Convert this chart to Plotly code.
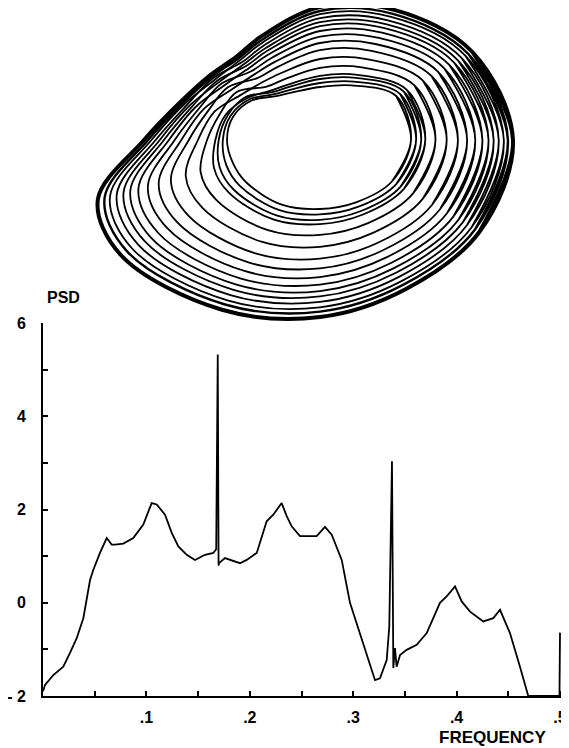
import numpy as np
import plotly.graph_objects as go

# ---------------- PSD spectrum ----------------
freq = [0.0, 0.002, 0.010, 0.0196, 0.026, 0.0326, 0.039, 0.0455, 0.0487, 0.0551,
        0.0616, 0.0664, 0.0696, 0.0777, 0.0873, 0.097, 0.1051, 0.110, 0.118, 0.1245,
        0.1309, 0.139, 0.147, 0.1567, 0.1647, 0.1675, 0.169, 0.1698, 0.1702, 0.176,
        0.184, 0.1905, 0.197, 0.2067, 0.2163, 0.2227, 0.2308, 0.2357, 0.2405, 0.2485,
        0.2647, 0.2727, 0.2792, 0.2889, 0.2969, 0.3066, 0.3146, 0.3211, 0.3259, 0.3324,
        0.3349, 0.3375, 0.3388, 0.3404, 0.342, 0.3453, 0.3517, 0.3614, 0.3711, 0.3839,
        0.3904, 0.3985, 0.4049, 0.413, 0.4258, 0.4355, 0.442, 0.4516, 0.4613, 0.4693,
        0.4995, 0.500]
psd = [-1.9, -1.76, -1.55, -1.37, -1.08, -0.76, -0.33, 0.49, 0.71, 1.07,
       1.39, 1.25, 1.25, 1.27, 1.39, 1.68, 2.14, 2.11, 1.89, 1.50,
       1.21, 1.03, 0.92, 1.03, 1.07, 1.15, 5.33, 0.80, 0.85, 0.96,
       0.89, 0.85, 0.92, 1.07, 1.75, 1.89, 2.14, 1.86, 1.64, 1.43,
       1.43, 1.63, 1.46, 0.92, 0.0, -0.65, -1.23, -1.66, -1.62, -1.23,
       -0.51, 3.04, -1.40, -0.97, -1.37, -1.12, -1.01, -0.90, -0.65, 0.0,
       0.14, 0.35, 0.03, -0.19, -0.40, -0.33, -0.15, -0.65, -1.37, -2.0,
       -2.0, -0.64]

x_tick_vals = [0.05, 0.1, 0.15, 0.2, 0.25, 0.3, 0.35, 0.4, 0.45, 0.5]
x_tick_text = ["", ".1", "", ".2", "", ".3", "", ".4", "", ".5"]
y_tick_vals = [-2, -1, 0, 1, 2, 3, 4, 5, 6]
y_tick_text = ["- 2", "", "0", "", "2", "", "4", "", "6"]

# ---------------- Attractor (phase portrait) ----------------
# radius of innermost / outermost loop along rays from the centre of the hole
ray_angles = [0, 30, 60, 90, 120, 135, 150, 165, 180, 195, 210, 240, 270, 300, 330]
inner_radius = [91, 88, 63, 53, 55, 62, 79, 90, 93, 90, 85, 75, 69, 72, 83]
outer_radius = [193, 176, 150, 133, 119, 118, 128, 145, 176, 230, 230, 196, 177, 172, 184]
# relative position of each loop between innermost (0) and outermost (1)
loop_levels = [0, 0.05, 0.10, 0.14, 0.24, 0.35, 0.46, 0.55, 0.63, 0.70,
               0.76, 0.81, 0.86, 0.91, 0.95, 1.0]
# the same loops where neighbours cross each other inside the fold (150 deg ray)
fold_levels = [0, 0.05, 0.14, 0.10, 0.35, 0.24, 0.55, 0.46, 0.70, 0.63,
               0.81, 0.76, 0.91, 0.86, 0.95, 1.0]
fold_angle = 150

FONT = "Liberation Sans, Arial, sans-serif"
# the page puts the figure 8 px from the window's corner
OFF = 8
W, H = 569 - OFF, 748 - OFF


def pxx(p):
    return (p - OFF) / W


def pxy(p):
    return 1 - (p - OFF) / H


fig = go.Figure()

# PSD curve
fig.add_trace(go.Scatter(x=freq, y=psd, mode="lines",
                         line=dict(color="black", width=1.8),
                         xaxis="x", yaxis="y", showlegend=False, hoverinfo="skip"))

# attractor loops
th = np.radians(np.array(ray_angles, dtype=float))
rin = np.array(inner_radius, dtype=float)
rout = np.array(outer_radius, dtype=float)
fold_idx = ray_angles.index(fold_angle)
for s, sf in zip(loop_levels, fold_levels):
    lev = np.full(len(ray_angles), s)
    lev[fold_idx] = sf
    r = rin + lev * (rout - rin)
    px = list(r * np.cos(th))
    py = list(r * np.sin(th))
    xs = [px[-1]] + px + [px[0], px[1]]
    ys = [py[-1]] + py + [py[0], py[1]]
    w = 4.0 if s >= 1.0 else (2.4 if s >= 0.95 else 1.8)
    fig.add_trace(go.Scatter(x=xs, y=ys, mode="lines",
                             line=dict(color="black", width=w, shape="spline", smoothing=1.0),
                             xaxis="x2", yaxis="y2", showlegend=False, hoverinfo="skip"))

x_px0, x_ppu = 43, 1034.0
y_bot_px, y_ppu = 696, 46.6
x_max = 0.505
y_top_px = y_bot_px - 8 * y_ppu
cx_px, cy_px = 320, 140          # centre of the attractor hole on the page
top_px = 338

fig.update_layout(
    width=W, height=H, autosize=False,
    margin=dict(l=0, r=0, t=0, b=0, autoexpand=False),
    paper_bgcolor="white", plot_bgcolor="rgba(0,0,0,0)",
    font=dict(family=FONT, color="black"),
    xaxis=dict(domain=[pxx(x_px0), pxx(x_px0 + x_max * x_ppu)], range=[0, x_max],
               automargin=False,
               showgrid=False, zeroline=False, showline=True, linecolor="black", linewidth=2,
               ticks="inside", ticklen=5, tickwidth=1.5, tickcolor="black",
               tickvals=x_tick_vals, ticktext=x_tick_text, ticklabelstandoff=6,
               tickfont=dict(family=FONT, size=16, color="black", weight="bold"),
               anchor="y"),
    yaxis=dict(domain=[pxy(y_bot_px), pxy(y_top_px)], range=[-2, 6],
               automargin=False,
               showgrid=False, zeroline=False, showline=True, linecolor="black", linewidth=2,
               ticks="inside", ticklen=5, tickwidth=1.5, tickcolor="black",
               tickvals=y_tick_vals, ticktext=y_tick_text, ticklabelstandoff=12,
               tickfont=dict(family=FONT, size=16, color="black", weight="bold"),
               anchor="x"),
    xaxis2=dict(domain=[0, 1], range=[OFF - cx_px, OFF + W - cx_px], visible=False,
                anchor="y2", automargin=False),
    yaxis2=dict(domain=[pxy(top_px), 1], range=[cy_px - top_px, cy_px - OFF], visible=False,
                anchor="x2", automargin=False),
    annotations=[
        dict(text="PSD", x=pxx(45), y=pxy(297), xref="paper", yref="paper",
             xanchor="left", yanchor="middle", showarrow=False,
             font=dict(family=FONT, size=16, color="black", weight="bold")),
        dict(text="FREQUENCY", x=pxx(492), y=pxy(737), xref="paper", yref="paper",
             xanchor="center", yanchor="middle", showarrow=False,
             font=dict(family=FONT, size=17, color="black", weight="bold")),
    ],
)

fig.write_html("out.html")
